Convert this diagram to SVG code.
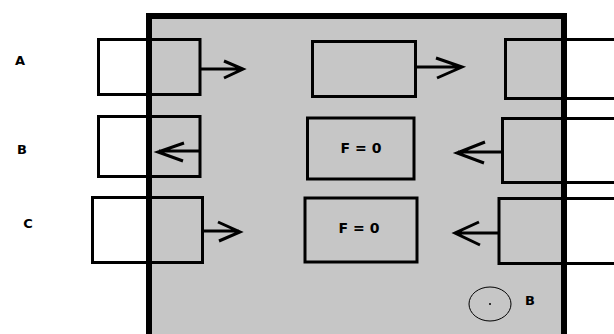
<svg xmlns="http://www.w3.org/2000/svg" width="614" height="334" viewBox="0 0 614 334">
<style>
.box{fill:none;stroke:#000;stroke-width:3}
.ln{fill:none;stroke:#000;stroke-width:3;stroke-linecap:butt;stroke-linejoin:miter}
.lbl{font-family:"DejaVu Sans",Verdana,sans-serif;font-weight:bold;font-size:13px;fill:#000}
.f{font-size:14px}
</style>
<rect width="614" height="334" fill="#fff"/>
<g id="frame">
<rect x="149" y="16" width="415" height="330" fill="#c6c6c6" stroke="#000" stroke-width="6"/>
</g>
<g id="labels">
<text class="lbl" x="20" y="65" text-anchor="middle">A</text>
<text class="lbl" x="22" y="154" text-anchor="middle">B</text>
<text class="lbl" x="28" y="228" text-anchor="middle">C</text>
</g>
<g id="boxA1"><rect class="box" x="98.5" y="39.5" width="101.5" height="55"/></g>
<g id="boxA2"><rect class="box" x="312.5" y="41.5" width="103" height="55"/></g>
<g id="boxA3"><path class="ln" d="M614,39.5 H505.5 V98.5 H614"/></g>
<g id="boxB1"><rect class="box" x="98.5" y="116.5" width="101.5" height="60"/></g>
<g id="boxB2"><rect class="box" x="307.5" y="118" width="106.5" height="61"/><text class="lbl f" x="361" y="153" text-anchor="middle">F = 0</text></g>
<g id="boxB3"><path class="ln" d="M614,118.5 H502.5 V182.5 H614"/></g>
<g id="boxC1"><rect class="box" x="92.5" y="197.5" width="110" height="65"/></g>
<g id="boxC2"><rect class="box" x="305" y="198" width="112" height="64"/><text class="lbl f" x="359" y="233" text-anchor="middle">F = 0</text></g>
<g id="boxC3"><path class="ln" d="M614,198.5 H499 V263.5 H614"/></g>
<g id="pointB">
<ellipse cx="490" cy="304" rx="21" ry="17" fill="none" stroke="#000" stroke-width="1"/>
<circle cx="490" cy="304" r="1" fill="#000"/>
<text class="lbl" x="530" y="305" text-anchor="middle">B</text>
</g>
<g id="connectors">
<path class="ln" d="M200,69 H242 M224,61 L243,69 L224,78"/>
<path class="ln" d="M416,67 H461 M436,58 L462,67 L437,78"/>
<path class="ln" d="M200,151 H159 M184,143 L158,152 L183,161"/>
<path class="ln" d="M502,152 H458 M485,142 L457,153 L484,163"/>
<path class="ln" d="M203,231 H239 M218,222 L240,232 L219,241"/>
<path class="ln" d="M499,233 H456 M479,222 L455,233 L480,245"/>
</g>
</svg>
